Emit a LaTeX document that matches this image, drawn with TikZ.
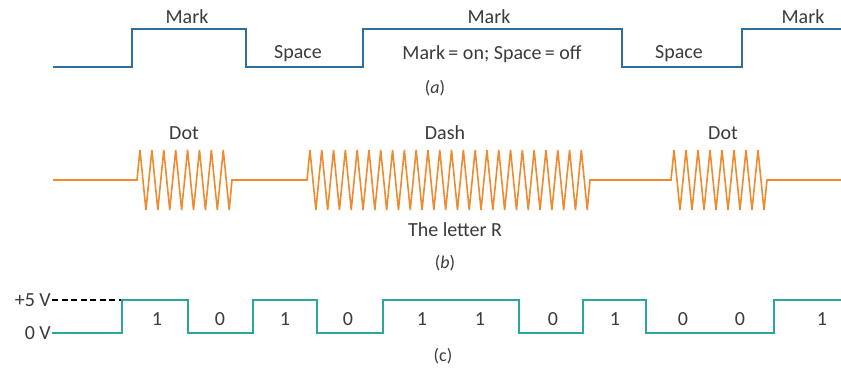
\documentclass[tikz,border=0pt]{standalone}
\usepackage{fontspec}
\setmainfont{Carlito}
\usetikzlibrary{positioning}
\definecolor{cmark}{HTML}{2F6E9C}
\definecolor{cmorse}{HTML}{F08A2E}
\definecolor{cbits}{HTML}{2AA69B}
\definecolor{ctext}{HTML}{3A3A3A}

\begin{document}
\begin{tikzpicture}[
  x=1pt, y=-1pt,
  wave/.style={line width=1.6pt, #1, line join=miter},
  lbl/.style={font=\fontsize{20}{22}\selectfont, text=ctext, inner sep=1pt},
  subcap/.style={font=\fontsize{18}{20}\selectfont, text=ctext, inner sep=1pt}
]
\useasboundingbox (0,0) rectangle (841,369);

%% (a) Mark / Space
\draw[wave=cmark] (53,67) -- (132,67) -- (132,29) -- (246,29) -- (246,67)
  -- (363,67) -- (363,29) -- (622,29) -- (622,67) -- (742,67) -- (742,29) -- (841,29);
\node[lbl] (mark1)  at (187,17) {Mark};
\node[lbl] (space1) at (298,54) {Space};
\node[lbl] (mark2)  at (489,17) {Mark};
\node[lbl] (rule)   at (492,54) {Mark\,= on; Space\,= off};
\node[lbl] (space2) at (679,54) {Space};
\node[lbl] (mark3)  at (803,17) {Mark};
\node[subcap] (capa) at (435,88) {(\textit{a})};

%% (b) Morse letter R
\draw[wave=cmorse] (53,180) -- (137,180)
  \foreach \k in {0,...,7} { -- ({137+11.9*(\k+0.25)},150) -- ({137+11.9*(\k+0.75)},210) }
  -- (232,180) -- (307,180)
  \foreach \k in {0,...,23} { -- ({307+11.8*(\k+0.25)},150) -- ({307+11.8*(\k+0.75)},210) }
  -- (590,180) -- (671,180)
  \foreach \k in {0,...,7} { -- ({671+12*(\k+0.25)},150) -- ({671+12*(\k+0.75)},210) }
  -- (767,180) -- (841,180);
\node[lbl] (dot1) at (184,133) {Dot};
\node[lbl] (dash) at (445,133) {Dash};
\node[lbl] (dot2) at (723,133) {Dot};
\node[lbl] (letr) at (455,230) {The letter R};
\node[subcap] (capb) at (445,263) {(\textit{b})};

%% (c) Binary levels
\node[lbl, anchor=east] (vhi) at (52,300) {+5 V};
\node[lbl, anchor=east] (vlo) at (52,333) {0 V};
\coordinate (rise) at (122,300);
\draw[dash pattern=on 6pt off 3.5pt, line width=1.1pt, black] (vhi.east) -- (rise);
\draw[wave=cbits] (vlo.east) -- (122,333) -- (122,300) -- (188,300) -- (188,333)
  -- (253,333) -- (253,300) -- (317,300) -- (317,333) -- (383,333) -- (383,300)
  -- (519,300) -- (519,333) -- (583,333) -- (583,300) -- (646,300) -- (646,333)
  -- (774,333) -- (774,300) -- (841,300);
\foreach \x/\b [count=\i] in {157/1, 220/0, 285/1, 348/0, 422/1, 480/1,
                              553/0, 615/1, 683/0, 740/0, 822/1}
  \node[lbl] (bit\i) at (\x,319) {\b};
\node[subcap] (capc) at (443,356) {(c)};

\end{tikzpicture}
\end{document}
